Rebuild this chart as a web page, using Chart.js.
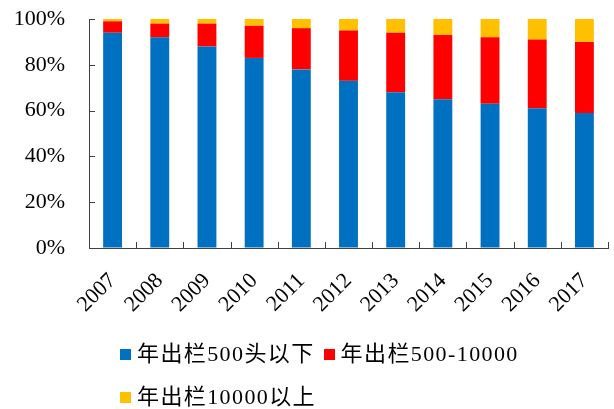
<!DOCTYPE html>
<html>
<head>
<meta charset="utf-8">
<script src="https://cdn.jsdelivr.net/npm/chart.js@4.4.1/dist/chart.umd.min.js"></script>
<style>
    body { margin: 0; background: #fff; }
    #wrap { position: relative; width: 614px; height: 409px; }
    #legend {
        position: absolute; left: 120px; top: 342px; width: 440px;
        display: flex; flex-wrap: wrap; row-gap: 19px; column-gap: 9px;
        font: 22px "Liberation Serif", "Noto Sans CJK SC", serif; color: #000; letter-spacing: 1.4px;
    }
    .item { display: flex; align-items: center; height: 24px; line-height: 24px; white-space: nowrap; }
    .box { width: 11px; height: 11px; margin-right: 6px; }
</style>
</head>
<body>
<div id="wrap">
    <canvas id="chart" width="614" height="409"></canvas>
    <div id="legend"></div>
</div>
<script>
// datos (porcentaje de cada escala)
const years = ['2007', '2008', '2009', '2010', '2011', '2012', '2013', '2014', '2015', '2016', '2017'];
const below500 = [94, 92, 88, 83, 78, 73, 68, 65, 63, 61, 59];
const from500to10000 = [5, 6, 10, 14, 18, 22, 26, 28, 29, 30, 31];
const above10000 = [1, 2, 2, 3, 4, 5, 6, 7, 8, 9, 10];
const seriesNames = ['年出栏500头以下', '年出栏500-10000', '年出栏10000以上'];
const seriesColors = ['#0070C0', '#FF0000', '#FFC000'];

const axisColor = '#404040';
const tickFont = { family: '"Liberation Serif", "Times New Roman", serif', size: 22 };

// marcas de eje hacia dentro
const innerTicks = {
    id: 'innerTicks',
    afterDatasetsDraw(chart) {
        const { ctx, chartArea, scales: { x, y } } = chart;
        ctx.save();
        ctx.strokeStyle = axisColor;
        ctx.lineWidth = 1;
        ctx.beginPath();
        y.ticks.forEach(t => {
            const py = Math.round(y.getPixelForValue(t.value)) + 0.5;
            ctx.moveTo(chartArea.left, py);
            ctx.lineTo(chartArea.left + 6, py);
        });
        for (let i = 0; i <= years.length; i++) {
            const px = Math.round(x.getPixelForValue(i - 0.5)) + 0.5;
            ctx.moveTo(px, chartArea.bottom);
            ctx.lineTo(px, chartArea.bottom - 6);
        }
        ctx.stroke();
        ctx.restore();
    }
};

const values = [below500, from500to10000, above10000];

const chart = new Chart(document.getElementById('chart').getContext('2d'), {
    type: 'bar',
    data: {
        labels: years,
        datasets: values.map((v, i) => ({
            label: seriesNames[i],
            data: v,
            backgroundColor: seriesColors[i],
            borderWidth: 0,
            barPercentage: 0.4,
            categoryPercentage: 1
        }))
    },
    options: {
        responsive: false,
        animation: false,
        layout: { padding: { left: 0, right: 6, top: 19, bottom: 79 } },
        plugins: {
            legend: { display: false },
            tooltip: { enabled: false }
        },
        scales: {
            x: {
                stacked: true,
                grid: { drawOnChartArea: false, drawTicks: false },
                border: { display: true, color: axisColor },
                ticks: { color: '#000', font: tickFont, maxRotation: 45, minRotation: 45, padding: 20 },
                afterFit: s => { s.height = 82; s.paddingLeft = 0; s.paddingRight = 0; }
            },
            y: {
                stacked: true,
                min: 0,
                max: 100,
                grid: { drawOnChartArea: false, drawTicks: false },
                border: { display: true, color: axisColor },
                ticks: { stepSize: 20, color: '#000', font: tickFont, padding: 24, callback: v => v + '%' },
                afterFit: s => { s.width = 89; s.paddingTop = 0; s.paddingBottom = 0; }
            }
        }
    },
    plugins: [innerTicks]
});

// leyenda en HTML
const legend = document.getElementById('legend');
chart.data.datasets.forEach(ds => {
    const item = document.createElement('span');
    item.className = 'item';
    const box = document.createElement('span');
    box.className = 'box';
    box.style.background = ds.backgroundColor;
    item.appendChild(box);
    item.appendChild(document.createTextNode(ds.label));
    legend.appendChild(item);
});
</script>
</body>
</html>
